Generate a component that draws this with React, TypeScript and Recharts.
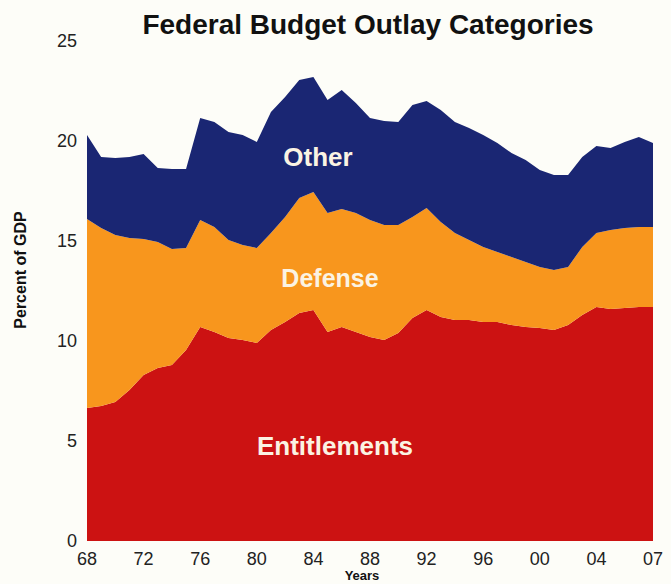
import React from "react";
import { AreaChart, Area, XAxis, YAxis } from "recharts";

const years = [
  1968, 1969, 1970, 1971, 1972, 1973, 1974, 1975, 1976, 1977, 1978, 1979, 1980, 1981,
  1982, 1983, 1984, 1985, 1986, 1987, 1988, 1989, 1990, 1991, 1992, 1993, 1994, 1995,
  1996, 1997, 1998, 1999, 2000, 2001, 2002, 2003, 2004, 2005, 2006, 2007, 2008,
];

const entitlements = [
  6.65, 6.75, 6.95, 7.55, 8.3, 8.65, 8.8, 9.55, 10.7, 10.45, 10.15, 10.05, 9.9, 10.55,
  10.95, 11.4, 11.55, 10.45, 10.7, 10.45, 10.2, 10.05, 10.4, 11.15, 11.55, 11.2, 11.05, 11.05,
  10.95, 10.95, 10.8, 10.7, 10.65, 10.55, 10.8, 11.3, 11.7, 11.6, 11.65, 11.7, 11.7,
];

const defense = [
  9.45, 8.9, 8.35, 7.6, 6.8, 6.3, 5.8, 5.1, 5.35, 5.25, 4.9, 4.75, 4.75, 4.85,
  5.25, 5.75, 5.9, 5.95, 5.9, 5.95, 5.85, 5.75, 5.4, 5.05, 5.1, 4.75, 4.35, 4.0,
  3.75, 3.5, 3.4, 3.25, 3.05, 3.0, 2.9, 3.4, 3.7, 3.95, 4.0, 4.0, 4.0,
];

const other = [
  4.2, 3.55, 3.85, 4.05, 4.25, 3.7, 4.0, 3.95, 5.1, 5.25, 5.4, 5.5, 5.3, 6.05,
  6.0, 5.9, 5.75, 5.65, 5.95, 5.5, 5.1, 5.2, 5.15, 5.6, 5.35, 5.6, 5.55, 5.6,
  5.6, 5.45, 5.2, 5.1, 4.85, 4.75, 4.6, 4.5, 4.35, 4.1, 4.3, 4.5, 4.2,
];

const xTickValues = [1968, 1972, 1976, 1980, 1984, 1988, 1992, 1996, 2000, 2004, 2008];
const xTickLabels = ["68", "72", "76", "80", "84", "88", "92", "96", "00", "04", "07"];
const yTicks = [0, 5, 10, 15, 20, 25];

const data = years.map((y, i) => ({
  year: y,
  Entitlements: entitlements[i],
  Defense: defense[i],
  Other: other[i],
}));

const FONT = "'Liberation Sans', Arial, Helvetica, sans-serif";
const RED = "#cc1212";
const ORANGE = "#f8961d";
const NAVY = "#1a2673";
const LABEL = "#fbf3e3";

export default function App() {
  return (
    <div style={{ position: "relative", width: 671, height: 584, background: "#fdfdf8", fontFamily: FONT }}>
      <style>{`body{margin:0;background:#fdfdf8}`}</style>
      <AreaChart
        width={671}
        height={584}
        data={data}
        margin={{ top: 41, right: 18, bottom: 13, left: 57 }}
      >
        <XAxis
          dataKey="year"
          type="number"
          domain={[1968, 2008]}
          ticks={xTickValues}
          tickFormatter={(v: number) => xTickLabels[xTickValues.indexOf(v)] ?? ""}
          axisLine={false}
          tickLine={false}
          tickSize={0}
          tickMargin={11}
          height={30}
          interval={0}
          tick={{ fill: "#222", fontSize: 18, fontFamily: FONT }}
        />
        <YAxis
          type="number"
          domain={[0, 25]}
          ticks={yTicks}
          axisLine={false}
          tickLine={false}
          tickSize={0}
          tickMargin={10}
          width={30}
          interval={0}
          tick={{ fill: "#222", fontSize: 18, fontFamily: FONT }}
        />
        <Area
          type="linear"
          dataKey="Entitlements"
          stackId="a"
          stroke="none"
          fill={RED}
          fillOpacity={1}
          isAnimationActive={false}
        />
        <Area
          type="linear"
          dataKey="Defense"
          stackId="a"
          stroke="none"
          fill={ORANGE}
          fillOpacity={1}
          isAnimationActive={false}
        />
        <Area
          type="linear"
          dataKey="Other"
          stackId="a"
          stroke="none"
          fill={NAVY}
          fillOpacity={1}
          isAnimationActive={false}
        />
      </AreaChart>
      <svg
        width={671}
        height={584}
        style={{ position: "absolute", left: 0, top: 0, pointerEvents: "none" }}
      >
        <text x={368} y={34} textAnchor="middle" fontSize={28} fontWeight="bold" fill="#111" fontFamily={FONT}>
          Federal Budget Outlay Categories
        </text>
        <text
          x={20}
          y={270}
          textAnchor="middle"
          dominantBaseline="central"
          transform="rotate(-90 20 270)"
          fontSize={16}
          fontWeight="bold"
          fill="#111"
          fontFamily={FONT}
        >
          Percent of GDP
        </text>
        <text x={362} y={580} textAnchor="middle" fontSize={13} fontWeight="bold" fill="#111" fontFamily={FONT}>
          Years
        </text>
        <text x={318} y={166} textAnchor="middle" fontSize={26} fontWeight="bold" fill={LABEL} fontFamily={FONT}>
          Other
        </text>
        <text x={330} y={287} textAnchor="middle" fontSize={25} fontWeight="bold" fill={LABEL} fontFamily={FONT}>
          Defense
        </text>
        <text x={335} y={455} textAnchor="middle" fontSize={26} fontWeight="bold" fill={LABEL} fontFamily={FONT}>
          Entitlements
        </text>
      </svg>
    </div>
  );
}
